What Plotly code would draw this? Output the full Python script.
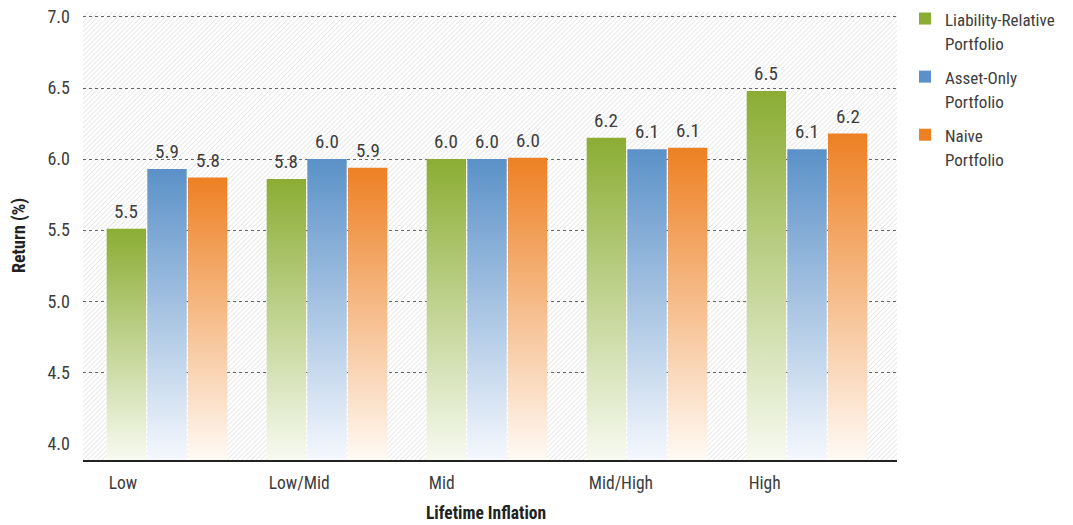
import base64
import plotly.graph_objects as go

categories = ["Low", "Low/Mid", "Mid", "Mid/High", "High"]
series_names = ["Liability-Relative<br>Portfolio", "Asset-Only<br>Portfolio", "Naive<br>Portfolio"]
liability_relative = [5.51, 5.86, 6.00, 6.15, 6.48]
asset_only = [5.93, 6.00, 6.00, 6.07, 6.07]
naive = [5.87, 5.94, 6.01, 6.08, 6.18]
labels_lr = ["5.5", "5.8", "6.0", "6.2", "6.5"]
labels_ao = ["5.9", "6.0", "6.0", "6.1", "6.1"]
labels_nv = ["5.8", "5.9", "6.0", "6.1", "6.2"]
y_ticks = [4.0, 4.5, 5.0, 5.5, 6.0, 6.5, 7.0]

FONT = "Roboto Condensed, Liberation Sans Narrow, Roboto, sans-serif"
TXT = "#3d3d3d"
top_colors = ["#8bad33", "#5b91c8", "#ed8023"]
bottom_colors = ["#f7faf1", "#f5f8fd", "#fffaf5"]

Y_MIN, Y_MAX = 3.883, 7.035
PITCH = 0.254
BAR_W = 0.246

fig = go.Figure()
series = [(liability_relative, labels_lr), (asset_only, labels_ao), (naive, labels_nv)]
for s, (vals, labs) in enumerate(series):
    for i, v in enumerate(vals):
        c = i + (s - 1) * PITCH
        x0, x1 = c - BAR_W / 2, c + BAR_W / 2
        fig.add_trace(go.Scatter(
            x=[x0, x0, x1, x1, x0], y=[Y_MIN, v, v, Y_MIN, Y_MIN],
            mode="none", fill="toself",
            fillgradient=dict(type="vertical",
                              colorscale=[[0, bottom_colors[s]], [1, top_colors[s]]]),
            showlegend=False, hoverinfo="skip"))
        fig.add_annotation(x=c, y=v, text=labs[i], showarrow=False,
                           yanchor="bottom", yshift=4,
                           font=dict(family=FONT, size=19, color=TXT))
    fig.add_trace(go.Bar(
        x=[None], y=[None], name='<span style="font-size:17px">' +
        series_names[s].replace("<br>", '</span><br><span style="font-size:17px">') + "</span>",
        marker=dict(color=top_colors[s], line=dict(width=0)),
        legendgroup=str(s), showlegend=True))

# hatch background
W, H = 814, 448
svg = (f'<svg xmlns="http://www.w3.org/2000/svg" width="{W}" height="{H}">'
       '<defs><pattern id="h" width="3.4" height="3.4" patternUnits="userSpaceOnUse" '
       'patternTransform="rotate(45)"><line x1="0" y1="0" x2="0" y2="3.4" '
       'stroke="#d8d8d8" stroke-width="1.1"/></pattern></defs>'
       f'<rect width="{W}" height="{H}" fill="white"/>'
       f'<rect width="{W}" height="{H}" fill="url(#h)"/></svg>')
src = "data:image/svg+xml;base64," + base64.b64encode(svg.encode()).decode()
fig.add_layout_image(dict(source=src, xref="paper", yref="paper", x=0, y=1,
                          sizex=1, sizey=1, xanchor="left", yanchor="top",
                          sizing="stretch", layer="below"))

# axis titles
fig.add_annotation(text="<b>Lifetime Inflation</b>", xref="paper", yref="paper",
                   x=(486 - 83) / 814, y=(460 - 513) / 448, xanchor="center",
                   yanchor="middle", showarrow=False,
                   font=dict(family=FONT, size=17.5, color="#222"))
fig.add_annotation(text="<b>Return (%)</b>", xref="paper", yref="paper",
                   x=(19 - 83) / 814, y=0.5, xanchor="center", yanchor="middle",
                   textangle=-90, showarrow=False,
                   font=dict(family=FONT, size=18, color="#222"))

tick_x = [i - 1.5 * PITCH + 0.012 for i in range(len(categories))]

fig.update_layout(
    width=1073, height=525,
    margin=dict(l=83, r=176, t=12, b=65),
    paper_bgcolor="white", plot_bgcolor="rgba(0,0,0,0)",
    font=dict(family=FONT, color=TXT),
    showlegend=True,
    legend=dict(x=(905 - 0) / 1073, y=1.0, xref="container", yref="container",
                xanchor="left", yanchor="top", valign="top",
                font=dict(family=FONT, size=18.5, color=TXT),
                tracegroupgap=7, traceorder="grouped", bgcolor="rgba(0,0,0,0)"),
    xaxis=dict(range=[-0.525, 4.5625], tickvals=tick_x, ticktext=categories,
               ticklabelposition="outside right", ticks="", showgrid=False,
               zeroline=False, showline=True, linecolor="#222", linewidth=1.5,
               ticklabelstandoff=6, automargin=False,
               tickfont=dict(family=FONT, size=17.5, color=TXT)),
    yaxis=dict(range=[Y_MIN, Y_MAX], tickvals=y_ticks,
               ticktext=[f"{v:.1f}" for v in y_ticks], ticks="", showgrid=False,
               zeroline=False, showline=False, ticklabelstandoff=12, automargin=False,
               tickfont=dict(family=FONT, size=18, color=TXT)),
    yaxis2=dict(range=[Y_MIN, Y_MAX], overlaying="y", tickvals=y_ticks[1:],
                showticklabels=False, ticks="", showgrid=True, gridcolor="#666",
                griddash="dot", gridwidth=1, zeroline=False, showline=False,
                automargin=False),
)
fig.add_trace(go.Scatter(x=[None], y=[None], yaxis="y2", showlegend=False, hoverinfo="skip"))

fig.write_html("out.html")
